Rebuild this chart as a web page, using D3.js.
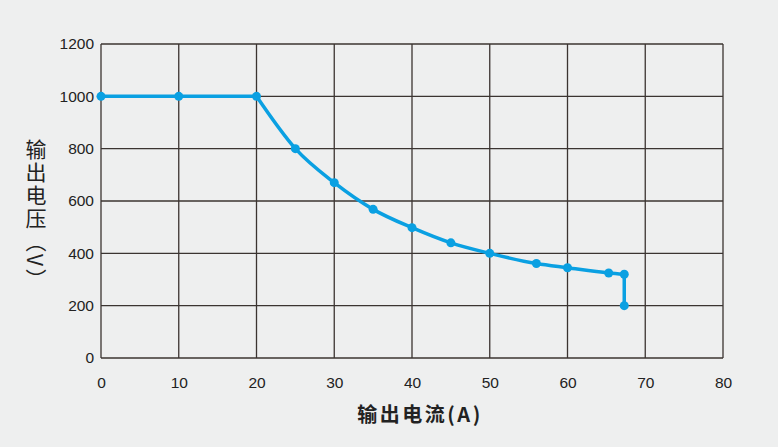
<!DOCTYPE html>
<html>
<head>
<meta charset="utf-8">
<script src="https://cdn.jsdelivr.net/npm/d3@7"></script>
<style>
  body { margin: 0; background: #eeefef; }
  svg { display: block; font-family: Arial, 'Liberation Sans', sans-serif; }
</style>
</head>
<body>
<div id="chart"></div>
<script>
// output current (A) vs output voltage (V)
var flatCurrent = [0, 10, 20]
var flatVoltage = [1000, 1000, 1000]
var curveCurrent = [20, 25, 30, 35, 40, 45, 50, 56, 60, 65.3, 67.3]
var curveVoltage = [1000, 800, 670, 568, 498, 440, 400, 361, 345, 325, 320]
var cutCurrent = [67.3, 67.3]
var cutVoltage = [320, 200]

var xTicks = [0, 10, 20, 30, 40, 50, 60, 70, 80]
var yTicks = [0, 200, 400, 600, 800, 1000, 1200]

var margin = { top: 44, left: 101, right: 55, bottom: 89 }
var width = 778 - margin.left - margin.right
var height = 447 - margin.top - margin.bottom

var svg = d3
  .select('#chart')
  .append('svg')
  .attr('width', 778)
  .attr('height', 447)
  .append('g')
  .attr('transform', 'translate(' + margin.left + ',' + margin.top + ')')

var xPositionScale = d3.scaleLinear().domain([0, 80]).range([0, width])
var yPositionScale = d3.scaleLinear().domain([0, 1200]).range([height, 0])

// grid
svg
  .selectAll('.vgrid')
  .data(xTicks)
  .enter()
  .append('line')
  .attr('x1', d => xPositionScale(d))
  .attr('x2', d => xPositionScale(d))
  .attr('y1', 0)
  .attr('y2', height)
  .attr('stroke', '#3b3431')
  .attr('stroke-width', 1.3)

svg
  .selectAll('.hgrid')
  .data(yTicks)
  .enter()
  .append('line')
  .attr('x1', 0)
  .attr('x2', width)
  .attr('y1', d => yPositionScale(d))
  .attr('y2', d => yPositionScale(d))
  .attr('stroke', '#3b3431')
  .attr('stroke-width', 1.3)

var xAxis = d3
  .axisBottom(xPositionScale)
  .tickValues(xTicks)
  .tickFormat(d3.format('d'))
  .tickSize(0)
  .tickPadding(19)
svg
  .append('g')
  .attr('class', 'axis x-axis')
  .attr('transform', 'translate(0,' + height + ')')
  .call(xAxis)

var yAxis = d3
  .axisLeft(yPositionScale)
  .tickValues(yTicks)
  .tickFormat(d3.format('d'))
  .tickSize(0)
  .tickPadding(7)
svg
  .append('g')
  .attr('class', 'axis y-axis')
  .call(yAxis)

svg.selectAll('.axis path').remove()
svg.selectAll('.axis').attr('font-family', null).attr('font-size', null)
svg
  .selectAll('.axis text')
  .attr('font-size', 15.5)
  .attr('fill', '#222')
  .style('font-family', 'Arial, "Liberation Sans", sans-serif')

var blue = '#0aa0e2'
var toPts = (xs, ys) => xs.map((x, i) => ({ x: x, y: ys[i] }))

var straight = d3
  .line()
  .x(d => xPositionScale(d.x))
  .y(d => yPositionScale(d.y))

var smooth = d3
  .line()
  .x(d => xPositionScale(d.x))
  .y(d => yPositionScale(d.y))
  .curve(d3.curveMonotoneX)

svg
  .append('path')
  .datum(toPts(flatCurrent, flatVoltage))
  .attr('d', straight)
  .attr('stroke', blue)
  .attr('stroke-width', 3.5)
  .attr('fill', 'none')

svg
  .append('path')
  .datum(toPts(curveCurrent, curveVoltage))
  .attr('d', smooth)
  .attr('stroke', blue)
  .attr('stroke-width', 3.5)
  .attr('fill', 'none')

svg
  .append('path')
  .datum(toPts(cutCurrent, cutVoltage))
  .attr('d', straight)
  .attr('stroke', blue)
  .attr('stroke-width', 3.5)
  .attr('fill', 'none')

var dots = toPts(flatCurrent, flatVoltage)
  .concat(toPts(curveCurrent.slice(1), curveVoltage.slice(1)))
  .concat(toPts(cutCurrent.slice(1), cutVoltage.slice(1)))

svg
  .selectAll('circle')
  .data(dots)
  .enter()
  .append('circle')
  .attr('fill', blue)
  .attr('r', 4.5)
  .attr('cx', d => xPositionScale(d.x))
  .attr('cy', d => yPositionScale(d.y))

// x title
svg
  .append('text')
  .text('输出电流(A)')
  .attr('x', 319)
  .attr('y', 378)
  .attr('text-anchor', 'middle')
  .attr('font-size', 20)
  .attr('font-weight', 'bold')
  .attr('fill', '#222')
  .attr('font-family', "'Noto Sans CJK SC', sans-serif")
  .attr('letter-spacing', 2.5)

// y title, vertical writing
svg
  .append('text')
  .text('输出电压（V）')
  .attr('x', -65)
  .attr('y', 95)
  .style('writing-mode', 'vertical-rl')
  .style('text-orientation', 'mixed')
  .attr('font-size', 21)
  .attr('letter-spacing', 2)
  .attr('fill', '#222')
  .attr('font-family', "'Noto Sans CJK SC', sans-serif")
</script>
</body>
</html>
